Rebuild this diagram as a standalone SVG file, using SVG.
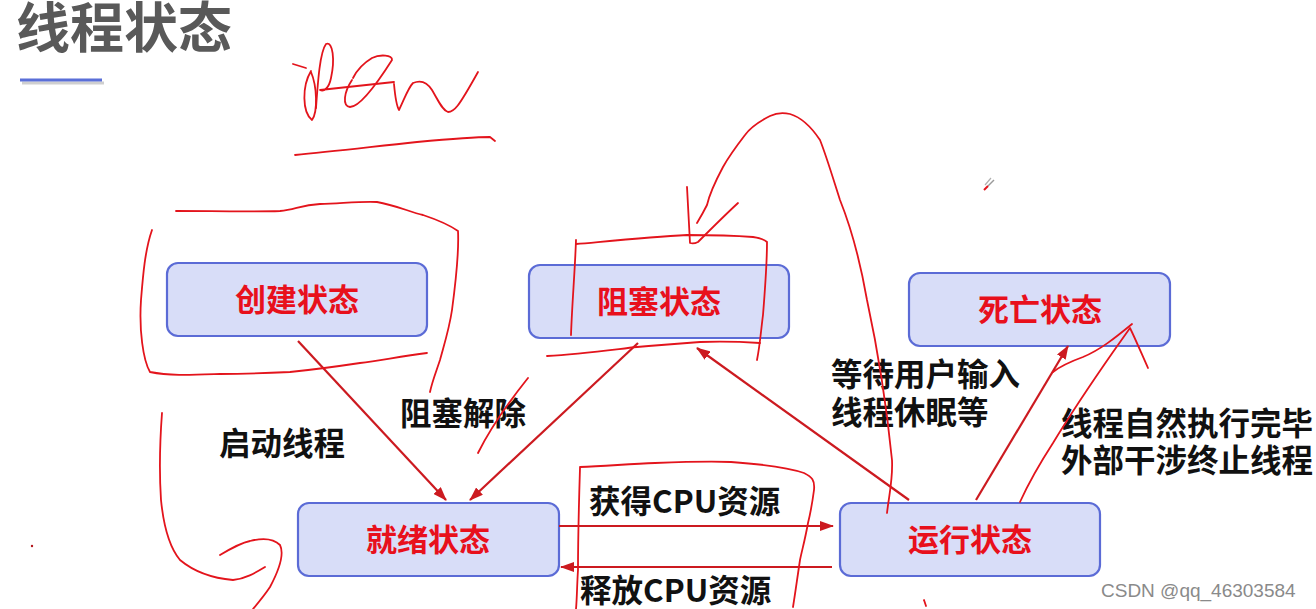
<svg xmlns="http://www.w3.org/2000/svg" width="1316" height="609" viewBox="0 0 1316 609">
<style>
.node rect{fill:#d8ddf8;stroke:#5b6bd6;stroke-width:2.2}
.node text{font-family:"Noto Sans CJK SC","Noto Sans",sans-serif;font-weight:bold;font-size:31px;fill:#e8101c;text-anchor:middle}
.lbl{font-family:"Noto Sans CJK SC","Noto Sans",sans-serif;font-weight:bold;font-size:31.5px;fill:#111}
.conn line{stroke:#cc1a20;stroke-width:2.2}
.ink{fill:none;stroke:#e3141c;stroke-width:1.8;stroke-linecap:round;stroke-linejoin:round}
</style>
<defs>
<marker id="ah" markerUnits="userSpaceOnUse" markerWidth="14" markerHeight="10" refX="13" refY="5" orient="auto">
<path d="M0,0 L14,5 L0,10 z" fill="#cc1a20"/>
</marker>
</defs>
<rect width="1316" height="609" fill="#ffffff"/>
<g id="title">
<text x="16" y="48" style="font-family:'Noto Sans CJK SC',sans-serif;font-weight:bold;font-size:54px;fill:#595959">线程状态</text>
<line x1="22" y1="83" x2="104" y2="83" stroke="#cfcfcf" stroke-width="3"/>
<line x1="20" y1="80" x2="102" y2="80" stroke="#5a6fd8" stroke-width="3"/>
</g>
<g id="node-create" class="node"><rect x="167" y="263" width="260" height="73" rx="11"/><text x="297" y="311">创建状态</text></g>
<g id="node-blocked" class="node"><rect x="529" y="265" width="260" height="73" rx="11"/><text x="659" y="313">阻塞状态</text></g>
<g id="node-dead" class="node"><rect x="909" y="273" width="261" height="73" rx="11"/><text x="1040" y="321">死亡状态</text></g>
<g id="node-ready" class="node"><rect x="298" y="503" width="261" height="73" rx="11"/><text x="428" y="551">就绪状态</text></g>
<g id="node-running" class="node"><rect x="840" y="503" width="260" height="73" rx="11"/><text x="970" y="551">运行状态</text></g>
<g id="connectors" class="conn">
<line x1="298" y1="341" x2="446" y2="500" marker-end="url(#ah)"/>
<line x1="638" y1="343" x2="470" y2="500" marker-end="url(#ah)"/>
<line x1="909" y1="500" x2="697" y2="348" marker-end="url(#ah)"/>
<line x1="559" y1="526" x2="833" y2="526" marker-end="url(#ah)"/>
<line x1="832" y1="567" x2="561" y2="567" marker-end="url(#ah)"/>
<line x1="976" y1="500" x2="1068" y2="346" marker-end="url(#ah)"/>
</g>
<g id="labels">
<text class="lbl" x="219" y="455">启动线程</text>
<text class="lbl" x="400" y="425">阻塞解除</text>
<text class="lbl" x="831" y="386">等待用户输入</text>
<text class="lbl" x="831" y="424">线程休眠等</text>
<text class="lbl" x="1061" y="435">线程自然执行完毕</text>
<text class="lbl" x="1061" y="472">外部干涉终止线程</text>
<text class="lbl" x="589" y="513">获得CPU资源</text>
<text class="lbl" x="580" y="602">释放CPU资源</text>
<text x="1101" y="597" style="font-family:'Liberation Sans',Arial,sans-serif;font-size:19px;fill:#8a8a8a">CSDN @qq_46303584</text>
</g>
<g id="annotations" class="ink">
<path d="M293,64 L306,68"/>
<path d="M311,71 C302,86 302,112 312,120 C318,112 317,86 311,72"/>
<path d="M316,108 C318,80 320,52 326,44 C333,41 335,60 331,78 C329,88 324,92 320,90 L394,82"/>
<path d="M352,80 C344,92 342,106 350,107 C360,107 378,82 392,60 C393,55 380,54 372,58 C362,64 356,72 353,78"/>
<path d="M394,84 C395,95 396,105 399,110 C404,100 408,88 413,83 C420,80 427,82 432,90 C438,100 442,110 448,112 C454,112 458,108 478,72"/>
<path d="M295,155 C330,152 370,147 417,142 C450,139 475,137 490,137 L495,141"/>
<path d="M176,211 C210,211 250,212 280,211 C295,210 300,205 320,204 C345,203 365,201 377,202 C395,205 410,212 423,215 C435,219 448,224 458,231 C459,250 456,280 452,310 C449,330 444,345 440,360 C436,372 432,382 430,392"/>
<path d="M152,230 C145,250 143,275 141,300 C139,330 143,360 150,372 C170,376 190,375 220,374 C250,374 270,373 290,372 C320,369 340,366 360,363 C380,361 400,356 427,353"/>
<path d="M528,378 C512,398 492,425 478,453"/>
<path d="M162,413 C160,440 159,470 161,500 C164,530 170,548 180,560 C192,570 210,578 233,580 C245,579 255,573 265,567"/>
<path d="M220,555 C230,549 240,543 250,541 C262,538 273,538 280,545 C285,555 278,572 270,587 C264,596 258,603 253,609"/>
<circle cx="32" cy="546" r="1.2" fill="#b3141a" stroke="none"/>
<path d="M576,240 C575,270 572,305 571,335"/>
<path d="M576,244 C610,241 650,237 687,235 C715,235 740,236 753,237 C760,238 765,240 767,242 C767,260 765,290 763,315 C761,330 760,345 757,360"/>
<path d="M547,356 C580,354 610,350 637,347 C660,345 685,343 700,342 C725,341 745,342 760,343"/>
<path d="M887,513 C889,495 893,480 892,460 C888,420 880,360 867,300 C860,260 850,225 840,200 C832,175 826,155 820,140 C810,125 800,117 790,114 C782,112 776,113 770,116 C758,122 750,128 745,135 C735,148 728,158 723,167 C715,182 709,196 707,205 C703,213 700,218 697,223"/>
<path d="M687,187 C688,205 689,225 690,243 C693,244 696,243 698,242 C712,228 725,215 738,203"/>
<path d="M1020,502 C1030,480 1042,460 1053,443 C1070,415 1090,385 1113,352 C1120,342 1125,335 1130,328 C1134,336 1140,350 1148,368"/>
<path d="M1053,372 C1062,365 1072,361 1083,357 C1100,350 1115,338 1132,324"/>
<path d="M580,468 C579,500 578,540 578,570 C577,585 577,598 576,609"/>
<path d="M580,467 C605,466 630,464 655,463 C680,462 710,461 731,462 C760,464 790,468 804,473 C812,477 815,480 814,490 C812,505 810,515 808,523 C805,540 802,550 800,560 C797,580 795,595 793,607"/>
<path d="M924,600 L926,606"/>
</g>
<g id="cursor">
<line x1="988" y1="186" x2="994" y2="180" stroke="#9a9a9a" stroke-width="1.5"/>
<line x1="985" y1="185" x2="991" y2="178" stroke="#b0b0b0" stroke-width="1.2"/>
<line x1="984" y1="190" x2="988" y2="186" stroke="#e3141c" stroke-width="2"/>
</g>
</svg>
